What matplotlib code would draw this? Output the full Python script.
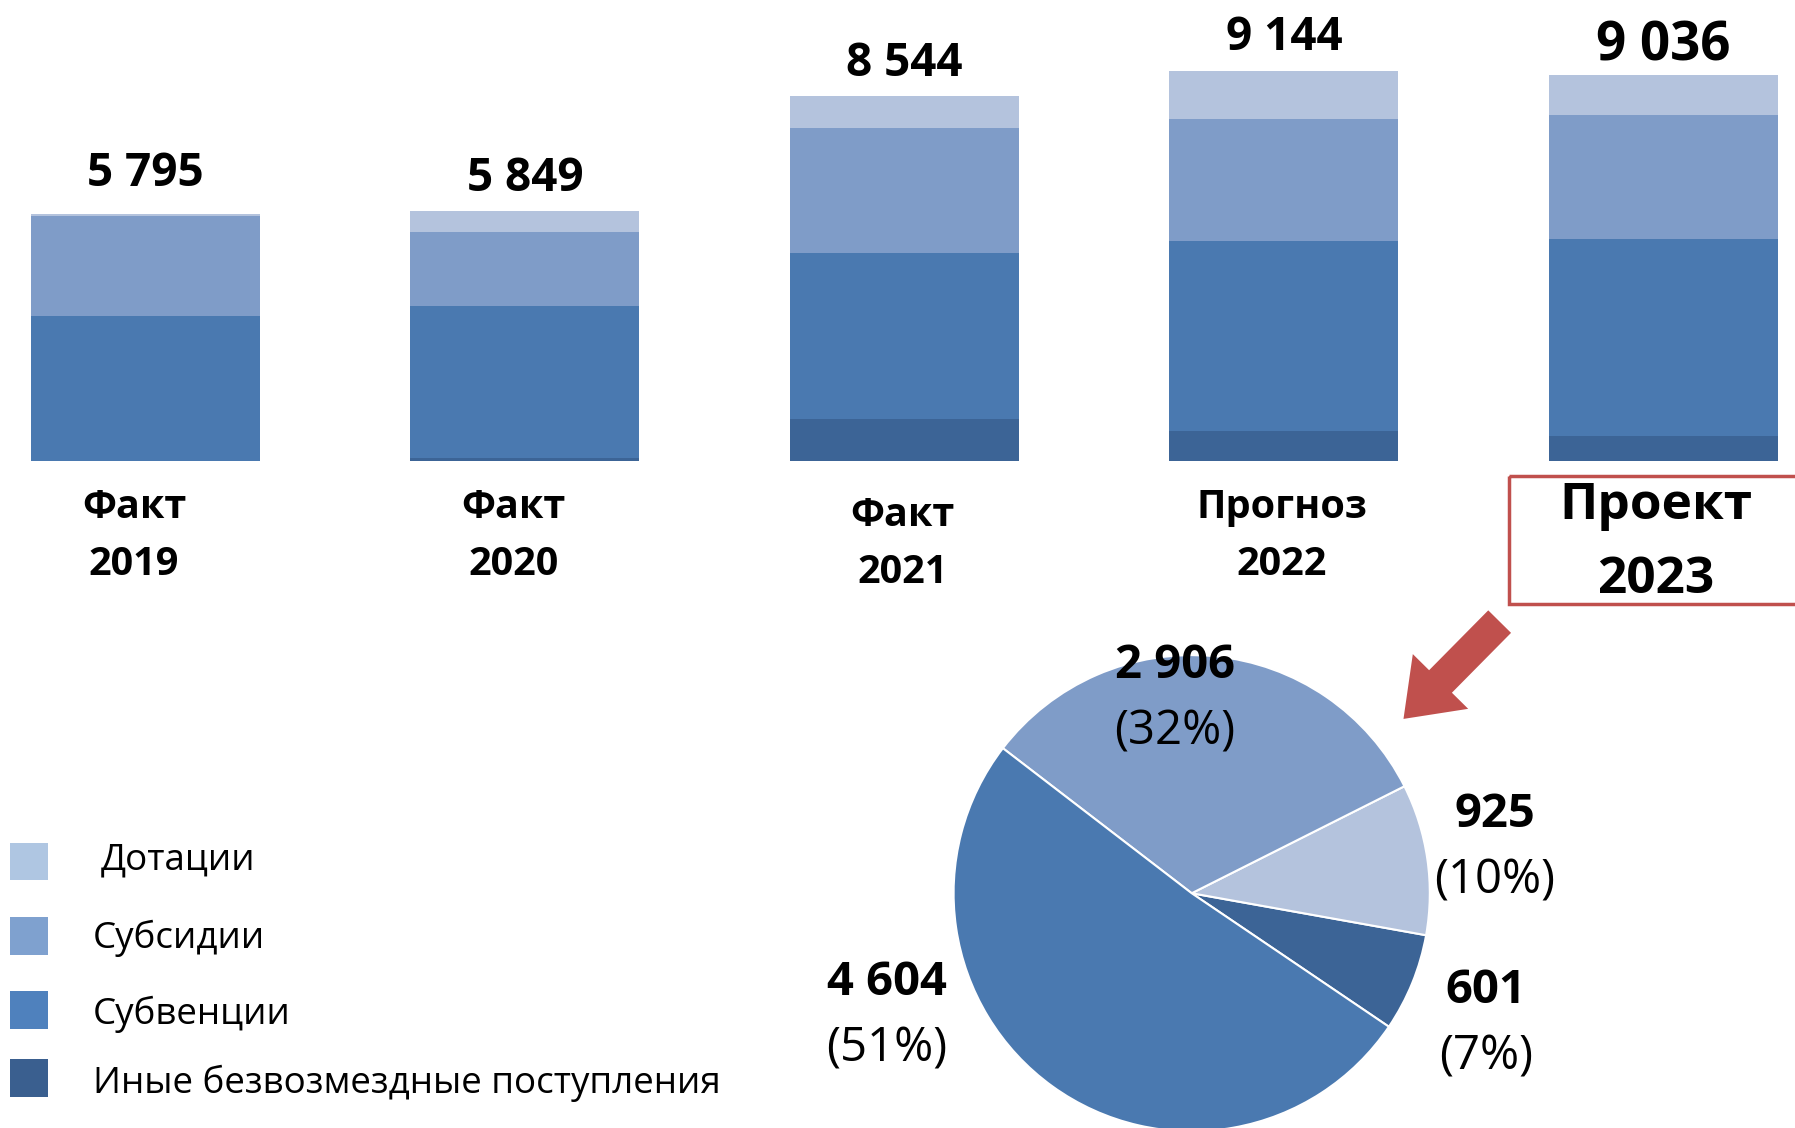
import numpy as np
import matplotlib
matplotlib.use("Agg")
import matplotlib.pyplot as plt
from matplotlib.patches import Rectangle, FancyArrow

plt.rcParams['font.family'] = ['Open Sans', 'DejaVu Sans']

# данные
years = ["2019", "2020", "2021", "2022", "2023"]
kinds = ["Факт", "Факт", "Факт", "Прогноз", "Проект"]
totals = [5795, 5849, 8544, 9144, 9036]
series_names = ["Дотации", "Субсидии", "Субвенции", "Иные безвозмездные поступления"]
inye = [0, 80, 990, 700, 601]
subv = [3404, 3565, 3890, 4450, 4604]
subs = [2332, 1715, 2920, 2870, 2906]
dot = [59, 489, 744, 1124, 925]

# 2023 год для круговой диаграммы
pie_values = [inye[4], dot[4], subs[4], subv[4]]

bar_colors = ["#B4C3DD", "#7F9CC8", "#4A79B0", "#3C6496"]  # дот, субс, субв, иные
legend_colors = ["#AFC6E2", "#7FA1CF", "#4F81BD", "#3A5F8F"]
red = "#C0504D"

W, H = 1795, 1128
fig = plt.figure(figsize=(W / 100, H / 100), dpi=100)

# ---- столбцы ----
ax = fig.add_axes([0, 0.591, 1, 0.409])
x = np.arange(len(years))
bw = 0.603
b1 = np.array(inye)
b2 = b1 + np.array(subv)
b3 = b2 + np.array(subs)
ax.bar(x, inye, bw, color=bar_colors[3])
ax.bar(x, subv, bw, bottom=b1, color=bar_colors[2])
ax.bar(x, subs, bw, bottom=b2, color=bar_colors[1])
ax.bar(x, dot, bw, bottom=b3, color=bar_colors[0])
ax.set_xlim(-0.383, 4.347)
ax.set_ylim(0, 10800)
ax.axis('off')

offs = [12, 7, 7, 7, 1]
lsize = [33, 33, 33, 33, 38]
for i, t in enumerate(totals):
    ax.annotate(f"{t:,}".replace(",", " "), (x[i], t), xytext=(0, offs[i]),
                textcoords='offset points', ha='center', va='bottom',
                fontsize=lsize[i], fontweight='bold')

# подписи категорий
for i in range(len(years)):
    if i == 4:
        ax.text(x[i] - 0.02, -1050, kinds[i], ha='center', va='center',
                fontsize=37, fontweight='bold', clip_on=False)
        ax.text(x[i] - 0.02, -2770, years[i], ha='center', va='center',
                fontsize=37, fontweight='bold', clip_on=False)
    else:
        dx = [-0.03, -0.03, -0.005, -0.005][i]
        dy = [0, 0, 190, 0][i]
        ax.text(x[i] + dx, -1070 - dy, kinds[i], ha='center', va='center',
                fontsize=28.5, fontweight='bold', clip_on=False)
        ax.text(x[i] + dx, -2420 - dy, years[i], ha='center', va='center',
                fontsize=28.5, fontweight='bold', clip_on=False)

# ---- круговая ----
cx, cy = 1041 / 1568, (985 - 780) / 985
rx, ry = 208 / 1568, 208 / 985
pax = fig.add_axes([cx - rx, cy - ry, 2 * rx, 2 * ry])
pax.pie(pie_values, colors=[bar_colors[3], bar_colors[0], bar_colors[1], bar_colors[2]],
        startangle=-34.1, counterclock=True, radius=1,
        wedgeprops=dict(edgecolor='white', linewidth=1.5))
pax.set_xlim(-1, 1)
pax.set_ylim(-1, 1)
pax.set_aspect('equal')

total23 = sum(pie_values)
label_pos = [(1.236, -0.41), (1.274, 0.33), (-0.072, 0.955), (-1.279, -0.375)]
for v, (lx, ly) in zip(pie_values, label_pos):
    pax.text(lx, ly, f"{v:,}".replace(",", " "), ha='center', va='center',
             fontsize=34, fontweight='bold', clip_on=False)
    pax.text(lx, ly - 0.277, f"({round(v / total23 * 100)}%)", ha='center', va='center',
             fontsize=34, clip_on=False)

# ---- оверлей: рамка, стрелка, легенда ----
ov = fig.add_axes([0, 0, 1, 1], zorder=5)
ov.set_xlim(0, W)
ov.set_ylim(H, 0)
ov.axis('off')
ov.patch.set_alpha(0)

s = W / 1568
ov.add_patch(Rectangle((1318 * s, 416 * s), 300 * s, 112 * s, fill=False,
                       edgecolor=red, linewidth=2.5))
ov.add_patch(FancyArrow(1310 * s, 543 * s, -84 * s, 85 * s, width=28 * s,
                        head_width=68 * s, head_length=46 * s,
                        length_includes_head=True, color=red, linewidth=0))

leg_y = [752, 820, 886, 946]
box_y = [752, 817, 882, 941]
leg_tx = [88, 81, 81, 81]
for i, name in enumerate(series_names):
    ov.add_patch(Rectangle((9 * s, (box_y[i] - 16) * s), 33 * s, 33 * s,
                           color=legend_colors[i], linewidth=0))
    ov.text(leg_tx[i] * s, leg_y[i] * s, name, ha='left', va='center', fontsize=26.5)

fig.savefig("out.png", dpi=100)
